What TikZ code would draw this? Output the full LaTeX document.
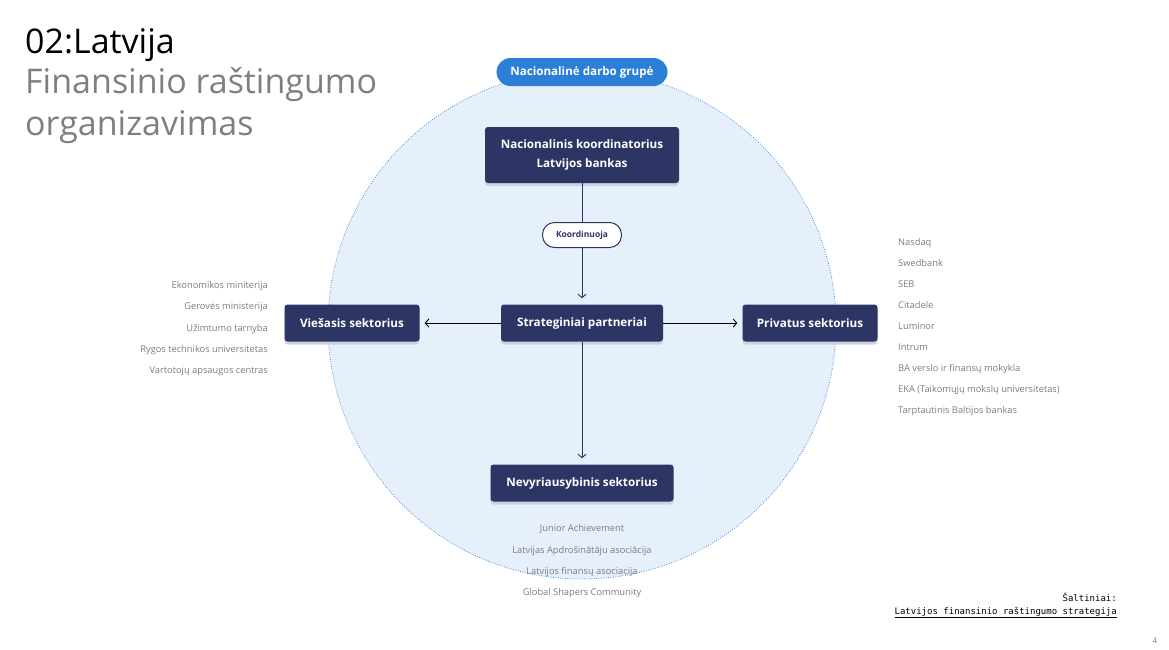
\documentclass[tikz,border=0pt]{standalone}
\usepackage{fontspec}
\setmainfont{Open Sans}
\newfontfamily\srcfont{DejaVu Sans Mono}
\usetikzlibrary{arrows.meta,positioning,shadows}

\definecolor{navy}{HTML}{2C3563}
\definecolor{pillblue}{HTML}{2B7FD7}
\definecolor{circfill}{HTML}{E6F0FA}
\definecolor{circline}{HTML}{3F8FE6}
\definecolor{listgray}{HTML}{7C7C7C}
\definecolor{titlegray}{HTML}{7F7F7F}
\definecolor{shadowc}{HTML}{CCD3DF}

\tikzset{
  sector/.style={fill=navy, text=white, rounded corners=3pt, minimum height=37pt,
    align=center, inner sep=0pt, font=\bfseries\fontsize{11.7}{19}\selectfont,
    general shadow={fill=shadowc, shadow yshift=-3pt}},
  pill/.style={fill=pillblue, text=white, rounded corners=14pt, minimum width=171pt,
    minimum height=28pt, inner sep=0pt, font=\bfseries\fontsize{11.6}{14}\selectfont},
  tag/.style={fill=white, draw=navy, line width=1pt, text=navy, rounded corners=12pt,
    minimum width=79pt, minimum height=25pt, inner sep=0pt,
    font=\bfseries\fontsize{8.5}{10}\selectfont},
  listitem/.style={text=listgray, inner sep=0pt, font=\fontsize{9.3}{11}\selectfont},
  link/.style={line width=0.9pt, -{Straight Barb[length=3.5pt,width=8pt]}},
}

\begin{document}
\begin{tikzpicture}[x=1pt,y=-1pt]
  \useasboundingbox (0,0) rectangle (1169,649);

  \draw[circline, fill=circfill, line width=0.8pt, dash pattern=on 0.8pt off 1.6pt]
    (582,325) circle (254);

  \node[anchor=base west, inner sep=0pt, font=\fontsize{34}{40}\selectfont] (title) at (25,53) {02:Latvija};
  \node[anchor=base west, inner sep=0pt, text=titlegray, font=\fontsize{34}{40}\selectfont] (sub1) at (25,93) {Finansinio raštingumo};
  \node[anchor=base west, inner sep=0pt, text=titlegray, font=\fontsize{34}{40}\selectfont] (sub2) at (25,135) {organizavimas};

  \node[pill] (group) at (582,72) {Nacionalinė darbo grupė};
  \node[sector, minimum width=194pt, minimum height=56pt] (coord) at (582,155) {Nacionalinis koordinatorius\\Latvijos bankas};
  \node[tag] (koord) at (582,235) {Koordinuoja};
  \node[sector, minimum width=162pt] (strat) at (582,323) {Strateginiai partneriai};
  \node[sector, minimum width=135pt] (pub) at (352,323) {Viešasis sektorius};
  \node[sector, minimum width=135pt] (priv) at (810,323) {Privatus sektorius};
  \node[sector, minimum width=183pt] (ngo) at (582,483) {Nevyriausybinis sektorius};

  \draw[navy, line width=0.9pt] (coord) -- (koord);
  \draw[navy, link, shorten >=6pt] (koord) -- (strat);
  \draw[navy, link, shorten >=6pt] (strat) -- (ngo);
  \draw[link, shorten >=5pt] (strat) -- (pub);
  \draw[link, shorten >=5pt] (strat) -- (priv);

  \foreach \t [count=\i] in {Ekonomikos miniterija, Gerovės ministerija, Užimtumo tarnyba,
      Rygos technikos universitetas, Vartotojų apsaugos centras}
    \node[listitem, anchor=base east] (pub-\i) at (268, 267.5+21.2*\i) {\t};

  \foreach \t [count=\i] in {Nasdaq, Swedbank, SEB, Citadele, Luminor, Intrum,
      BA verslo ir finansų mokykla, EKA (Taikomųjų mokslų universitetas), Tarptautinis Baltijos bankas}
    \node[listitem, anchor=base west] (priv-\i) at (898, 224.5+21*\i) {\t};

  \foreach \t [count=\i] in {Junior Achievement, Latvijas Apdrošinātāju asociācija,
      Latvijos finansų asociacija, Global Shapers Community}
    \node[listitem, anchor=base] (ngo-\i) at (582, 510.5+21.3*\i) {\t};

  \node[anchor=base east, inner sep=0pt, font=\srcfont\fontsize{9}{11}\selectfont] (src) at (1117,601) {Šaltiniai:};
  \node[anchor=base east, inner sep=0pt, font=\srcfont\fontsize{9}{11}\selectfont] (srclink) at (1117,614) {\underline{Latvijos finansinio raštingumo strategija}};
  \node[text=listgray, inner sep=0pt, font=\fontsize{8}{10}\selectfont] (page) at (1155,641) {4};
\end{tikzpicture}
\end{document}
